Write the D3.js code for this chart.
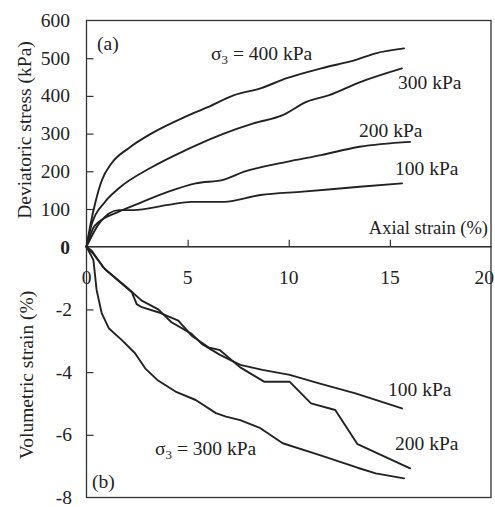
<!DOCTYPE html>
<html>
<head>
<meta charset="utf-8">
<script src="https://cdn.jsdelivr.net/npm/d3@7/dist/d3.min.js"></script>
<style>
  html, body { margin: 0; padding: 0; background: #fff; }
  text { font-family: "Liberation Serif", "Times New Roman", serif; fill: #222; }
</style>
</head>
<body>
<script>
// ---- Data ----
const xTicks = [5, 10, 15];
const xTickLabels = ["0", "5", "10", "15", "20"];
const xTickLabelValues = [0, 5, 10, 15, 20];
const stressTicks = [100, 200, 300, 400, 500, 600];
const volTicks = [-2, -4, -6, -8];

// (a) deviatoric stress vs axial strain
const dev400x = [0, 0.2, 0.45, 0.75, 1.25, 2.1, 3.2, 4.9, 6.0, 7.3, 8.6, 9.9, 11.6, 13.4, 14.3, 15.7];
const dev400y = [0, 60, 120, 175, 222, 262, 300, 345, 370, 402, 420, 447, 473, 497, 513, 526];
const dev300x = [0, 0.26, 0.9, 1.6, 3.2, 4.9, 6.7, 8.25, 9.7, 10.9, 12.0, 13.5, 15.6];
const dev300y = [0, 60, 118, 155, 210, 256, 298, 327, 349, 385, 402, 436, 473];
const dev200x = [0, 0.4, 1.6, 2.6, 4.05, 5.4, 6.8, 7.8, 9.9, 11.6, 13.5, 16.0];
const dev200y = [0, 55, 93, 115, 146, 168, 178, 199, 225, 243, 265, 278];
const dev100x = [0, 0.6, 1.6, 2.3, 4.05, 5.2, 6.8, 8.6, 10.7, 13.5, 15.6];
const dev100y = [0, 60, 97, 97, 111, 119, 119, 137, 146, 159, 168];

// (b) volumetric strain vs axial strain
const vol300x = [0, 0.34, 0.5, 0.75, 1.1, 1.75, 2.4, 2.9, 3.5, 4.4, 5.4, 6.4, 6.9, 7.6, 8.6, 9.7, 11.5, 13.4, 14.3, 15.7];
const vol300y = [0, -0.42, -1.38, -2.12, -2.6, -2.98, -3.4, -3.88, -4.25, -4.62, -4.89, -5.31, -5.42, -5.53, -5.79, -6.27, -6.64, -7.05, -7.23, -7.39];
const vol200x = [0, 0.26, 0.83, 1.0, 2.24, 2.48, 2.73, 3.55, 4.54, 5.2, 6.03, 6.6, 7.6, 8.8, 10.05, 11.1, 12.3, 13.4, 16.0];
const vol200y = [0, -0.13, -0.66, -0.77, -1.45, -1.83, -1.93, -2.09, -2.36, -2.84, -3.21, -3.3, -3.85, -4.31, -4.31, -5.0, -5.21, -6.3, -7.07];
const vol100x = [0, 0.3, 0.91, 2.0, 2.73, 3.55, 4.2, 5.2, 5.7, 6.6, 7.6, 8.7, 10.05, 11.5, 13.3, 15.6];
const vol100y = [0, -0.2, -0.71, -1.3, -1.72, -2.0, -2.41, -2.78, -3.1, -3.45, -3.77, -3.93, -4.09, -4.36, -4.68, -5.16];

const devSeries = [
  {name: "400", xs: dev400x, ys: dev400y},
  {name: "300", xs: dev300x, ys: dev300y},
  {name: "200", xs: dev200x, ys: dev200y},
  {name: "100", xs: dev100x, ys: dev100y}
];
const volSeries = [
  {name: "300", xs: vol300x, ys: vol300y},
  {name: "200", xs: vol200x, ys: vol200y},
  {name: "100", xs: vol100x, ys: vol100y}
];

// ---- Layout ----
const W = 495, H = 507;
const svg = d3.select("body").append("svg").attr("width", W).attr("height", H);

const x = d3.scaleLinear().domain([0, 20]).range([86.5, 491]);
const yTop = d3.scaleLinear().domain([0, 600]).range([246.7, 20.5]);
const yBot = d3.scaleLinear().domain([-8, 0]).range([497.5, 246.7]);

const ink = "#222";
const tickLen = 7;

// x tick labels (drawn below the shared axis, inside panel b) - under the curves
svg.append("g").selectAll("text").data(xTickLabelValues).join("text")
  .attr("x", d => d === 20 ? 494 : x(d)).attr("y", 284)
  .attr("text-anchor", d => d === 20 ? "end" : "middle").attr("font-size", 19.5)
  .text((d, i) => xTickLabels[i]);

// Frames
svg.append("rect").attr("x", x(0)).attr("y", yTop(600))
  .attr("width", x(20) - x(0)).attr("height", yTop(0) - yTop(600))
  .attr("fill", "none").attr("stroke", "#333").attr("stroke-width", 1.3);
svg.append("rect").attr("x", x(0)).attr("y", yBot(0))
  .attr("width", x(20) - x(0)).attr("height", yBot(-8) - yBot(0))
  .attr("fill", "none").attr("stroke", "#333").attr("stroke-width", 1.3);

// Axes via d3 (inward ticks)
const axTop = d3.axisRight(yTop).tickValues([100, 200, 300, 400, 500]).tickSize(tickLen).tickFormat("");
svg.append("g").attr("transform", `translate(${x(0)},0)`).call(axTop)
  .call(g => g.select(".domain").remove())
  .call(g => g.selectAll("line").attr("stroke", "#333").attr("stroke-width", 1.2));

const axBot = d3.axisRight(yBot).tickValues([-2, -4, -6]).tickSize(tickLen).tickFormat("");
svg.append("g").attr("transform", `translate(${x(0)},0)`).call(axBot)
  .call(g => g.select(".domain").remove())
  .call(g => g.selectAll("line").attr("stroke", "#333").attr("stroke-width", 1.2));

const axX = d3.axisTop(x).tickValues(xTicks).tickSize(tickLen).tickFormat("");
svg.append("g").attr("transform", `translate(0,${yTop(0)})`).call(axX)
  .call(g => g.select(".domain").remove())
  .call(g => g.selectAll("line").attr("stroke", "#333").attr("stroke-width", 1.2));

// Y tick labels
svg.append("g").selectAll("text").data(stressTicks).join("text")
  .attr("x", 70).attr("y", d => yTop(d) + 6.5)
  .attr("text-anchor", "end").attr("font-size", 19.5)
  .text(d => d);
svg.append("text").attr("x", 70).attr("y", yTop(0) + 7.5)
  .attr("text-anchor", "end").attr("font-size", 19.5).attr("font-weight", "bold")
  .text("0");
svg.append("g").selectAll("text").data(volTicks).join("text")
  .attr("x", 72).attr("y", d => yBot(d) + 6.5)
  .attr("text-anchor", "end").attr("font-size", 19.5)
  .text(d => d);

// Axis titles
svg.append("text").attr("transform", "translate(31,130) rotate(-90)")
  .attr("text-anchor", "middle").attr("font-size", 19.5)
  .text("Deviatoric stress (kPa)");
svg.append("text").attr("transform", "translate(33,375) rotate(-90)")
  .attr("text-anchor", "middle").attr("font-size", 19.5)
  .text("Volumetric strain (%)");

// Curves
const lineTop = d3.line().x(d => x(d[0])).y(d => yTop(d[1])).curve(d3.curveMonotoneX);
const lineBot = d3.line().x(d => x(d[0])).y(d => yBot(d[1]));
svg.append("g").selectAll("path").data(devSeries).join("path")
  .attr("d", s => lineTop(s.xs.map((v, i) => [v, s.ys[i]])))
  .attr("fill", "none").attr("stroke", ink).attr("stroke-width", 1.9)
  .attr("stroke-linejoin", "round").attr("stroke-linecap", "round");
svg.append("g").selectAll("path").data(volSeries).join("path")
  .attr("d", s => lineBot(s.xs.map((v, i) => [v, s.ys[i]])))
  .attr("fill", "none").attr("stroke", ink).attr("stroke-width", 1.9)
  .attr("stroke-linejoin", "round").attr("stroke-linecap", "round");

// Panel labels and annotations
const fs = 19.5;
function label(xp, yp, txt, size) {
  return svg.append("text").attr("x", xp).attr("y", yp).attr("font-size", size || fs).text(txt);
}
label(97, 50, "(a)");
label(92, 488, "(b)");
label(488, 234, "Axial strain (%)", 18.5).attr("text-anchor", "end");

function sigmaLabel(xp, yp, rest) {
  const t = svg.append("text").attr("x", xp).attr("y", yp).attr("font-size", fs);
  t.append("tspan").text("σ");
  t.append("tspan").attr("font-size", 13).attr("dy", 4).text("3");
  t.append("tspan").attr("dy", -4).text(" = " + rest);
  return t;
}
sigmaLabel(211, 60, "400 kPa");
label(398, 89, "300 kPa");
label(359, 137, "200 kPa");
label(395, 175, "100 kPa");

label(388, 396, "100 kPa");
label(395, 450, "200 kPa");
sigmaLabel(155, 455, "300 kPa");
</script>
</body>
</html>
